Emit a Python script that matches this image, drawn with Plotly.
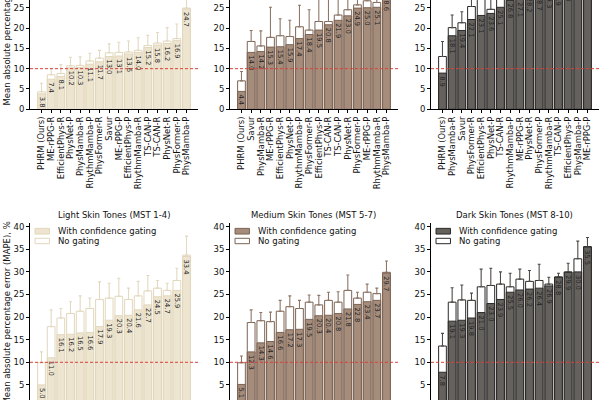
import plotly.graph_objects as go

FONT = "DejaVu Sans"

# ---------------- data ----------------
# Top row (three panels, categories sorted by gated MAPE)
tl_cats = ["PHRM (Ours)", "ME-rPPG-R", "EfficientPhys-R", "PhysNet-P", "PhysMamba-R", "RhythmMamba-P",
           "PhysFormer-R", "Savur", "ME-rPPG-P", "EfficientPhys-P", "RhythmMamba-R", "TS-CAN-P",
           "TS-CAN-R", "PhysNet-R", "PhysFormer-P", "PhysMamba-P"]
tl_gated = [3.8, 7.4, 8.1, 10.2, 10.3, 11.1, 11.7, 13.0, 13.1, 13.6, 14.0, 15.2, 15.8, 16.2, 16.9, 24.7]
tl_nogate = [4.3, 8.5, 8.8, 10.7, 10.8, 11.9, 12.6, 13.9, 14.0, 14.1, 14.5, 15.7, 16.3, 16.8, 17.4, 24.9]
tl_sd = [2.1, 1.6, 2.2, 2.1, 2.1, 1.9, 1.9, 2.2, 2.5, 2.7, 3.1, 2.5, 2.6, 3.3, 3.6, 3.6]

tm_cats = ["PHRM (Ours)", "Savur", "PhysMamba-R", "ME-rPPG-R", "EfficientPhys-R", "PhysNet-P",
           "RhythmMamba-P", "PhysFormer-R", "EfficientPhys-P", "TS-CAN-R", "TS-CAN-P", "PhysNet-R",
           "PhysFormer-P", "ME-rPPG-P", "RhythmMamba-R", "PhysMamba-P"]
tm_gated = [4.4, 14.0, 14.2, 15.3, 15.4, 15.9, 17.4, 18.4, 19.5, 20.8, 21.9, 23.0, 24.9, 25.0, 25.1, 28.6]
tm_nogate = [7.0, 16.7, 15.6, 17.7, 18.1, 17.9, 20.3, 19.5, 21.6, 21.6, 23.2, 24.5, 25.7, 26.7, 26.3, 29.4]
tm_sd = [2.3, 2.7, 3.7, 7.4, 4.2, 4.0, 5.3, 5.0, 5.9, 6.9, 5.8, 5.0, 4.8, 4.3, 4.7, 4.6]

tr_cats = ["PHRM (Ours)", "PhysMamba-R", "Savur", "PhysFormer-R", "EfficientPhys-R", "PhysNet-P",
           "TS-CAN-R", "RhythmMamba-P", "ME-rPPG-R", "PhysNet-R", "PhysFormer-P", "RhythmMamba-R",
           "TS-CAN-P", "EfficientPhys-P", "PhysMamba-P", "ME-rPPG-P"]
tr_gated = [8.9, 18.1, 19.4, 22.1, 23.1, 23.6, 25.1, 26.8, 27.1, 28.2, 28.7, 29.3, 29.9, 31.0, 32.5, 34.0]
tr_nogate = [13.0, 20.1, 21.3, 25.3, 28.2, 24.6, 27.5, 27.6, 28.0, 29.0, 29.4, 30.0, 30.6, 31.8, 33.2, 34.8]
tr_sd = [3.7, 3.1, 2.7, 3.2, 3.3, 3.4, 3.0, 3.0, 3.0, 3.0, 3.0, 3.0, 3.0, 3.0, 3.0, 3.0]

# Bottom row: skin-tone groups
light_cats = ["PHRM (Ours)", "ME-rPPG-R", "PhysMamba-R", "EfficientPhys-R", "PhysNet-P", "RhythmMamba-P",
              "PhysFormer-R", "Savur", "ME-rPPG-P", "EfficientPhys-P", "RhythmMamba-R", "TS-CAN-P",
              "TS-CAN-R", "PhysNet-R", "PhysFormer-P", "PhysMamba-P"]
light_gated = [5.0, 11.0, 16.1, 16.2, 16.5, 16.6, 17.9, 19.3, 20.3, 20.4, 21.6, 22.7, 24.5, 24.7, 25.9, 33.4]
light_nogate = [9.9, 17.9, 19.8, 20.8, 21.3, 21.9, 23.9, 24.2, 24.6, 23.9, 24.7, 25.8, 26.4, 25.9, 28.1, 33.7]
light_sd = [2.4, 3.7, 2.1, 2.6, 3.4, 2.3, 3.9, 3.3, 4.0, 2.5, 3.2, 3.4, 1.7, 1.6, 2.7, 4.2]

medium_cats = ["PHRM (Ours)", "Savur", "PhysMamba-R", "ME-rPPG-R", "EfficientPhys-R", "PhysNet-P",
               "RhythmMamba-P", "PhysFormer-R", "EfficientPhys-P", "TS-CAN-R", "TS-CAN-P", "PhysNet-R",
               "PhysFormer-P", "ME-rPPG-P", "RhythmMamba-R", "PhysMamba-P"]
medium_gated = [5.1, 12.3, 14.3, 14.6, 16.6, 17.2, 17.3, 19.5, 20.3, 20.4, 20.8, 21.8, 22.8, 23.4, 23.7, 29.7]
medium_nogate = [9.9, 18.8, 19.2, 19.0, 21.3, 22.3, 21.9, 23.3, 22.7, 23.7, 23.3, 25.9, 24.2, 25.5, 25.2, 29.9]
medium_sd = [1.5, 2.8, 1.8, 2.1, 2.4, 2.4, 1.8, 1.6, 2.1, 1.8, 2.3, 3.4, 1.3, 1.8, 1.2, 2.5]

dark_cats = ["PHRM (Ours)", "PhysMamba-R", "Savur", "PhysFormer-R", "EfficientPhys-R", "PhysNet-P",
             "TS-CAN-R", "RhythmMamba-P", "ME-rPPG-R", "PhysNet-R", "PhysFormer-P", "RhythmMamba-R",
             "TS-CAN-P", "EfficientPhys-P", "PhysMamba-P", "ME-rPPG-P"]
dark_gated = [7.8, 19.1, 19.3, 19.8, 21.0, 23.0, 23.9, 25.5, 26.0, 26.2, 26.4, 26.9, 28.8, 29.9, 30.0, 35.5]
dark_nogate = [13.6, 23.3, 23.8, 23.7, 26.7, 27.0, 27.3, 26.7, 28.4, 27.9, 28.1, 27.3, 28.9, 30.0, 32.9, 35.6]
dark_sd = [2.8, 3.2, 3.3, 1.6, 3.9, 3.8, 2.7, 3.0, 2.2, 2.4, 3.6, 1.5, 0.8, 1.9, 3.9, 2.0]

titles = ["Light Skin Tones (MST 1-4)", "Medium Skin Tones (MST 5-7)", "Dark Skin Tones (MST 8-10)"]
legend_labels = ["With confidence gating", "No gating"]
ylabel = "Mean absolute percentage error (MAPE), %"
threshold = 10

# ---------------- styles ----------------
styles = {
    "light": dict(fill="#ede5d0", edge="#e2d7bc", err="#e3d9c0"),
    "medium": dict(fill="#a58c7b", edge="#7c6455", err="#8f7666"),
    "dark": dict(fill="#65615d", edge="#2b2928", err="#4d4a47"),
}

panels = [
    (tl_cats, tl_gated, tl_nogate, tl_sd, "light"),
    (tm_cats, tm_gated, tm_nogate, tm_sd, "medium"),
    (tr_cats, tr_gated, tr_nogate, tr_sd, "dark"),
    (light_cats, light_gated, light_nogate, light_sd, "light"),
    (medium_cats, medium_gated, medium_nogate, medium_sd, "medium"),
    (dark_cats, dark_gated, dark_nogate, dark_sd, "dark"),
]

xdoms = [[0.05, 0.33], [0.3833, 0.6633], [0.7183, 0.9983]]
top_dom = [0.7268, 1.0]
bot_dom = [0.0, 0.44325]
top_range = [0, 26.9]
bot_range = [1.66, 40.88]

fig = go.Figure()

for i, (cats, gated, nogate, sd, sk) in enumerate(panels):
    n = i + 1
    xa = "x" if n == 1 else f"x{n}"
    ya = "y" if n == 1 else f"y{n}"
    st = styles[sk]
    fig.add_trace(go.Bar(
        x=cats, y=nogate, xaxis=xa, yaxis=ya, width=0.8,
        marker=dict(color="white", line=dict(color=st["edge"], width=1)),
        error_y=dict(type="data", array=sd, arrayminus=[0] * len(sd), symmetric=False,
                     color=st["err"], thickness=1.1, width=1.5),
        showlegend=False, hoverinfo="skip",
    ))
    fig.add_trace(go.Bar(
        x=cats, y=gated, xaxis=xa, yaxis=ya, width=0.8,
        marker=dict(color=st["fill"], line=dict(color=st["edge"], width=1)),
        text=[f"{v:.1f}" for v in gated], textposition="inside", insidetextanchor="end",
        textangle=90, constraintext="none", cliponaxis=True,
        insidetextfont=dict(size=6.7, color="#222", family=FONT),
        showlegend=False, hoverinfo="skip",
    ))

    row_top = n <= 3
    col = (n - 1) % 3
    xkey = "xaxis" if n == 1 else f"xaxis{n}"
    ykey = "yaxis" if n == 1 else f"yaxis{n}"
    fig.update_layout(**{
        xkey: dict(domain=xdoms[col], anchor=ya, type="category", range=[-1.19, 16.19],
                   tickmode="array", tickvals=cats, ticktext=cats,
                   showline=True, linecolor="#000", linewidth=0.9, ticks="outside", ticklen=3,
                   tickwidth=0.8, tickcolor="#000", tickangle=-90, showgrid=False, zeroline=False,
                   tickfont=dict(size=8.4, family=FONT, color="#111"), automargin=False,
                   fixedrange=True),
        ykey: dict(domain=top_dom if row_top else bot_dom, anchor=xa,
                   range=top_range if row_top else bot_range, dtick=5, tick0=0,
                   showline=True, linecolor="#000", linewidth=0.9, ticks="outside", ticklen=3,
                   tickwidth=0.8, tickcolor="#000", showgrid=False, zeroline=False,
                   tickfont=dict(size=8.5, family=FONT, color="#111"), automargin=False,
                   fixedrange=True),
    })
    # threshold line
    fig.add_shape(type="line", xref=f"{xa} domain", yref=ya, x0=0, x1=1, y0=threshold, y1=threshold,
                  line=dict(color="#d9403a", width=1, dash="3px,2px"), layer="above")

    if not row_top:
        # title
        fig.add_annotation(text=titles[col], xref=f"{xa} domain", yref="paper", x=0.5, y=0.4625,
                           xanchor="center", yanchor="middle", showarrow=False,
                           font=dict(size=8.5, family=FONT, color="#111"))
        # legend
        fig.add_shape(type="rect", xref=f"{xa} domain", yref=f"{ya} domain",
                      x0=0.030, x1=0.116, y0=0.936, y1=0.968,
                      fillcolor=st["fill"], line=dict(color=st["edge"], width=1))
        fig.add_shape(type="rect", xref=f"{xa} domain", yref=f"{ya} domain",
                      x0=0.030, x1=0.116, y0=0.8816, y1=0.912,
                      fillcolor="white", line=dict(color=st["edge"], width=1))
        for lbl, yy in zip(legend_labels, [0.953, 0.897]):
            fig.add_annotation(text=lbl, xref=f"{xa} domain", yref=f"{ya} domain", x=0.152, y=yy,
                               xanchor="left", yanchor="middle", showarrow=False,
                               font=dict(size=8.5, family=FONT, color="#111"))

# y-axis titles (partially cropped like the reference)
fig.add_annotation(text=ylabel, xref="paper", yref="paper", x=0.01, y=0.73, xanchor="center",
                   yanchor="bottom", textangle=-90, showarrow=False,
                   font=dict(size=8.5, family=FONT, color="#111"))
fig.add_annotation(text=ylabel, xref="paper", yref="paper", x=0.01, y=0.45, xanchor="center",
                   yanchor="top", textangle=-90, showarrow=False,
                   font=dict(size=8.5, family=FONT, color="#111"))

fig.update_layout(
    template="none", width=600, height=400, margin=dict(l=0, r=0, t=0, b=0),
    barmode="overlay", bargap=0.2, paper_bgcolor="white", plot_bgcolor="white",
    font=dict(family=FONT, size=8.5, color="#111"), showlegend=False,
)

fig.write_html("out.html")
